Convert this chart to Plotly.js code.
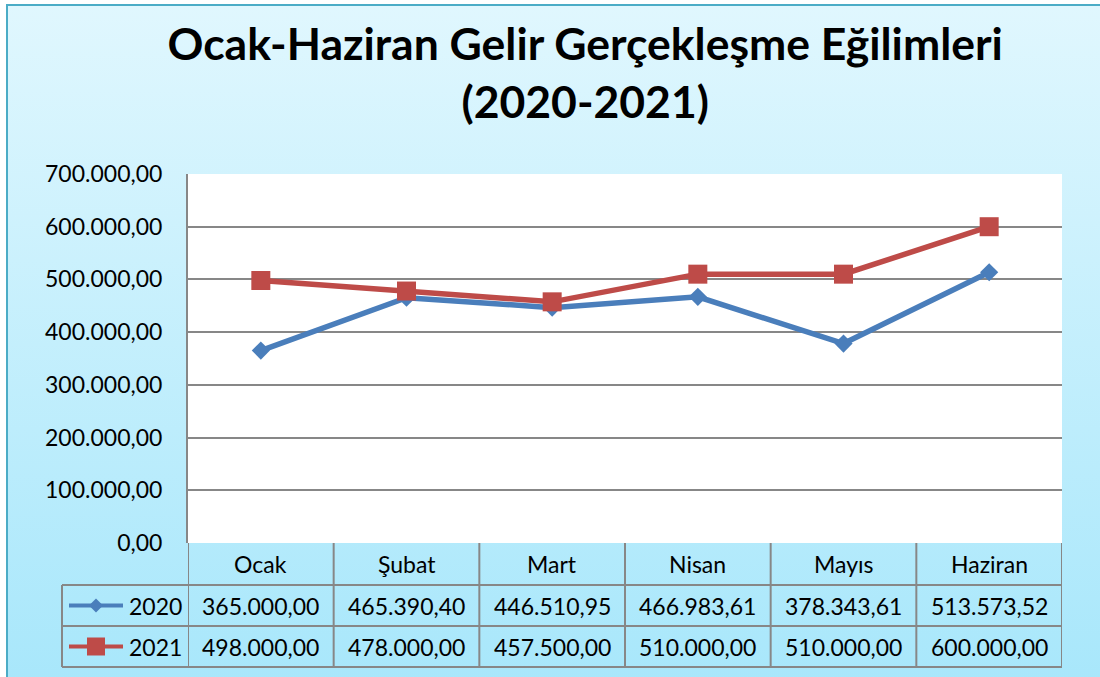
<!DOCTYPE html>
<html>
<head>
<meta charset="utf-8">
<script src="https://cdn.plot.ly/plotly-3.0.1.min.js"></script>
<style>
  html, body { margin: 0; padding: 0; background: #ffffff; width: 1100px; height: 677px; overflow: hidden; }
  #frame { position: absolute; left: 6px; top: 4px; width: 1200px; height: 800px;
           border: 2px solid #4bacc6; box-sizing: border-box;
           background: linear-gradient(to bottom, #e0f7fe 0px, #a8e7fb 677px); }
  #chart { position: absolute; left: 0; top: 0; width: 1100px; height: 677px; }
</style>
</head>
<body>
<div id="frame"></div>
<div id="chart"></div>
<script>
// ---- data ----
const categories = ['Ocak', 'Şubat', 'Mart', 'Nisan', 'Mayıs', 'Haziran'];
const seriesNames = ['2020', '2021'];
const values2020 = [365000.00, 465390.40, 446510.95, 466983.61, 378343.61, 513573.52];
const values2021 = [498000.00, 478000.00, 457500.00, 510000.00, 510000.00, 600000.00];
const yTickValues = [0, 100000, 200000, 300000, 400000, 500000, 600000, 700000];

function fmtTR(v) {
  const parts = v.toFixed(2).split('.');
  const intPart = parts[0].replace(/\B(?=(\d{3})+(?!\d))/g, '.');
  return intPart + ',' + parts[1];
}

// ---- geometry (pixels) ----
const W = 1100, H = 677;
const L = 188, R = 1062, T = 174, B = 543;
const X = px => (px - L) / (R - L);
const Y = py => (B - py) / (B - T);
const rowLines = [585, 626, 667];
const tableLeft = 62;

const blue = '#4a7ebb', red = '#be4b48';
const gridCol = '#878787';
const font = 'Lato, "Open Sans", sans-serif';
const fs = 23;

const traces = [
  { x: categories, y: values2020, name: seriesNames[0], type: 'scatter', mode: 'lines+markers',
    line: { color: blue, width: 5.5 }, marker: { symbol: 'diamond', size: 14, color: blue } },
  { x: categories, y: values2021, name: seriesNames[1], type: 'scatter', mode: 'lines+markers',
    line: { color: red, width: 5.5 }, marker: { symbol: 'square', size: 19, color: red } }
];

const shapes = [];
const annotations = [];
const lineStyle = { color: gridCol, width: 2 };

// table horizontal lines
rowLines.forEach(py => {
  shapes.push({ type: 'line', xref: 'paper', yref: 'paper', x0: X(tableLeft), x1: 1, y0: Y(py), y1: Y(py), line: lineStyle });
});
// table vertical lines (column borders from category positions)
for (let i = 0; i <= categories.length; i++) {
  shapes.push({ type: 'line', xref: 'x', yref: 'paper', x0: i - 0.5, x1: i - 0.5, y0: Y(B), y1: Y(rowLines[2]), line: lineStyle });
}
// left header column border
shapes.push({ type: 'line', xref: 'paper', yref: 'paper', x0: X(tableLeft), x1: X(tableLeft), y0: Y(rowLines[0]), y1: Y(rowLines[2]), line: lineStyle });

// legend keys in table
const keyY = [(rowLines[0] + rowLines[1]) / 2, (rowLines[1] + rowLines[2]) / 2];
const keyColors = [blue, red];
keyY.forEach((py, k) => {
  shapes.push({ type: 'line', xref: 'paper', yref: 'paper', x0: X(69), x1: X(123), y0: Y(py), y1: Y(py),
                line: { color: keyColors[k], width: 4 } });
  const cx = 96;
  if (k === 0) {
    const r = 7;
    shapes.push({ type: 'path', xref: 'paper', yref: 'paper',
      path: `M ${X(cx - r)} ${Y(py)} L ${X(cx)} ${Y(py - r)} L ${X(cx + r)} ${Y(py)} L ${X(cx)} ${Y(py + r)} Z`,
      fillcolor: blue, line: { width: 0 } });
  } else {
    const r = 9;
    shapes.push({ type: 'rect', xref: 'paper', yref: 'paper', x0: X(cx - r), x1: X(cx + r), y0: Y(py - r), y1: Y(py + r),
      fillcolor: red, line: { width: 0 } });
  }
  annotations.push({ xref: 'paper', yref: 'paper', x: X(155), y: Y(py), text: seriesNames[k], showarrow: false,
    xanchor: 'center', yanchor: 'middle', font: { family: font, size: fs, color: '#000' } });
});

// category header
categories.forEach((c, i) => {
  annotations.push({ xref: 'x', yref: 'paper', x: c, y: Y((B + rowLines[0]) / 2), text: c, showarrow: false,
    xanchor: 'center', yanchor: 'middle', font: { family: font, size: fs, color: '#000' } });
});
// values
[values2020, values2021].forEach((vals, k) => {
  vals.forEach((v, i) => {
    annotations.push({ xref: 'x', yref: 'paper', x: categories[i], y: Y(keyY[k]), text: fmtTR(v), showarrow: false,
      xanchor: 'center', yanchor: 'middle', font: { family: font, size: fs, color: '#000' } });
  });
});

const layout = {
  width: W, height: H,
  paper_bgcolor: 'rgba(0,0,0,0)', plot_bgcolor: '#ffffff',
  margin: { l: L, r: W - R, t: T, b: H - B, pad: 0 },
  showlegend: false,
  title: { text: 'Ocak-Haziran Gelir Gerçekleşme Eğilimleri<br>(2020-2021)',
    font: { family: font, size: 44.5, color: '#000', weight: 700 },
    x: 0.532, xanchor: 'center', yref: 'container', y: 1 - 60 / H, yanchor: 'middle' },
  xaxis: { type: 'category', range: [-0.5, 5.5], showticklabels: false, showgrid: false,
           zeroline: false, showline: false, ticks: '', fixedrange: true },
  yaxis: { range: [0, 700000], tickvals: yTickValues, ticktext: yTickValues.map(fmtTR),
           showgrid: true, gridcolor: gridCol, gridwidth: 2, zeroline: false,
           showline: true, linecolor: gridCol, linewidth: 2,
           ticks: '', ticklabelstandoff: 19,
           tickfont: { family: font, size: fs, color: '#000' }, fixedrange: true },
  shapes: shapes,
  annotations: annotations
};

Plotly.newPlot('chart', traces, layout, { displayModeBar: false, staticPlot: true });
</script>
</body>
</html>
